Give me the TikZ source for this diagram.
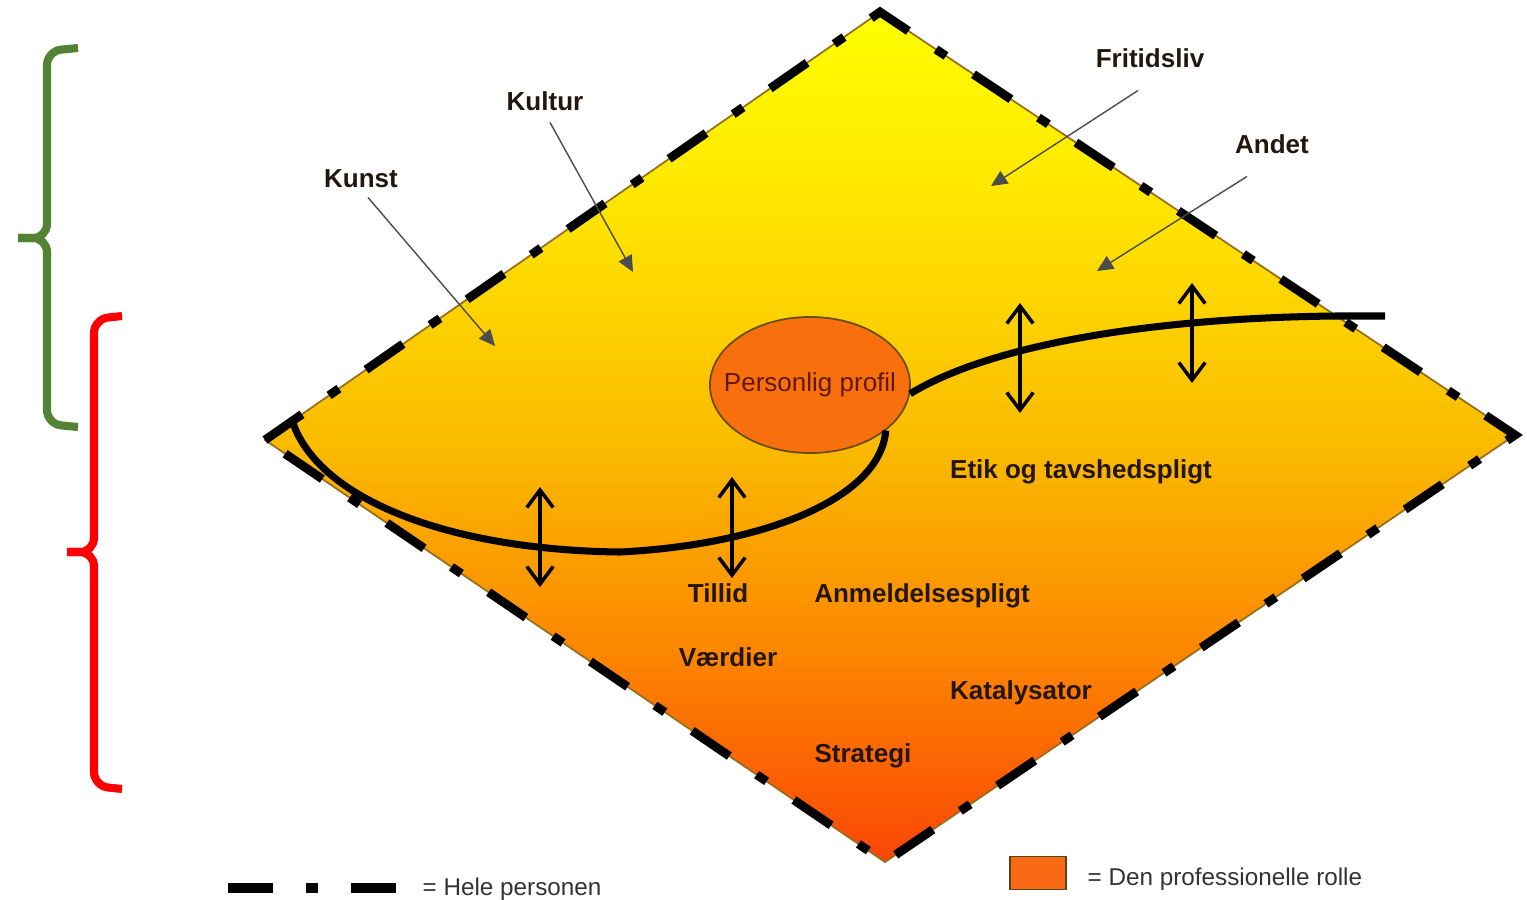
\documentclass[tikz,border=0pt]{standalone}
\usepackage{fontspec}
\setmainfont{Liberation Sans}
\usetikzlibrary{arrows.meta,shapes.geometric}

\definecolor{bundfarve}{RGB}{250,70,5}
\definecolor{farveto}{RGB}{252,135,0}
\definecolor{farvetre}{RGB}{250,188,0}
\definecolor{farvefire}{RGB}{255,226,0}
\definecolor{topfarve}{RGB}{255,255,0}
\definecolor{profilfarve}{RGB}{248,112,14}
\definecolor{rollefarve}{RGB}{250,105,20}
\definecolor{kantfarve}{RGB}{150,110,30}
\definecolor{tekstfarve}{RGB}{35,22,15}
\definecolor{profiltekst}{RGB}{95,25,10}
\definecolor{groen}{RGB}{84,130,53}

\pgfdeclareverticalshading{rolleshade}{100bp}{color(0bp)=(bundfarve); color(25bp)=(bundfarve);
  color(37.5bp)=(farveto); color(50bp)=(farvetre); color(62.5bp)=(farvefire);
  color(75bp)=(topfarve); color(100bp)=(topfarve)}

\begin{document}
\begin{tikzpicture}[x=0.01cm, y=-0.01cm,
    ord/.style={font=\bfseries\fontsize{7.4}{9}\selectfont, text=tekstfarve, anchor=base, inner sep=1pt},
    forklaring/.style={font=\fontsize{6.9}{8}\selectfont, text=black!80, anchor=base west, inner sep=0pt},
    pil/.style={draw=black!70, line width=0.4pt, -{Triangle[length=4.6pt,width=4.2pt]}},
    dobbelt/.style={line width=1pt, {Straight Barb[length=5pt,width=7.5pt]}-{Straight Barb[length=5pt,width=7.5pt]}},
    kurve/.style={line width=2pt},
    stiplet/.style={line width=2.5pt, dash pattern=on 12.8pt off 9.4pt on 3.4pt off 9.4pt},
    klamme/.style={line width=2.3pt, rounded corners=4}]

    \useasboundingbox (0,0) rectangle (1527,899);

    \coordinate (venstre) at (265,440);
    \coordinate (top) at (880,12);
    \coordinate (hoejre) at (1515,435);
    \coordinate (bund) at (885,862);

    % hele personen
    \shade[shading=rolleshade] (venstre) -- (top) -- (hoejre) -- (bund) -- cycle;
    \draw[kantfarve, line width=0.5pt] (venstre) -- (top) -- (hoejre) -- (bund) -- cycle;
    \draw[stiplet] (venstre) -- (top) -- (hoejre) -- (bund) -- cycle;

    % krumme linje
    \coordinate (kurveslut) at (1385,316);
    \coordinate (kurvestart) at (293,423);
    \node[draw=kantfarve!70!black, line width=0.5pt, fill=profilfarve, ellipse,
        minimum width=2cm, minimum height=1.36cm, inner sep=0pt,
        label={[font=\fontsize{7.4}{9}\selectfont, text=profiltekst]center:Personlig profil}]
        (profil) at (810,385) {};
    \draw[kurve] (profil.-5) .. controls (990,345) and (1150,318) .. (1335,316) -- (kurveslut);
    \draw[kurve] (profil.-31) .. controls (880,500) and (760,545) .. (620,552)
        .. controls (450,550) and (320,500) .. (kurvestart);

    % dobbeltpile
    \coordinate (p1a) at (540,487);
    \coordinate (p1b) at (540,587);
    \coordinate (p2a) at (732,477);
    \coordinate (p2b) at (732,578);
    \coordinate (p3a) at (1020,303);
    \coordinate (p3b) at (1020,413);
    \coordinate (p4a) at (1192,283);
    \coordinate (p4b) at (1192,383);
    \draw[dobbelt] (p1a) -- (p1b);
    \draw[dobbelt] (p2a) -- (p2b);
    \draw[dobbelt] (p3a) -- (p3b);
    \draw[dobbelt] (p4a) -- (p4b);

    % ord uden for rollen
    \node[ord] (kunst) at (361,187) {Kunst};
    \node[ord] (kultur) at (545,110) {Kultur};
    \node[ord] (fritid) at (1150,67) {Fritidsliv};
    \node[ord] (andet) at (1272,153) {Andet};
    \coordinate (kunstpkt) at (495,346);
    \coordinate (kulturpkt) at (633,272);
    \coordinate (fritidpkt) at (991,186);
    \coordinate (andetpkt) at (1097,271);
    \draw[pil] ([shift={(7,6)}]kunst.south) -- (kunstpkt);
    \draw[pil] ([shift={(5,8)}]kultur.south) -- (kulturpkt);
    \draw[pil] ([shift={(-12,19)}]fritid.south) -- (fritidpkt);
    \draw[pil] ([shift={(-25,19)}]andet.south) -- (andetpkt);

    % ord i rollen
    \node[ord] (etik) at (1081,478) {Etik og tavshedspligt};
    \node[ord] (tillid) at (718,602) {Tillid};
    \node[ord] (anmeld) at (922,602) {Anmeldelsespligt};
    \node[ord] (vaerdier) at (728,666) {Værdier};
    \node[ord] (katalys) at (1021,699) {Katalysator};
    \node[ord] (strategi) at (863,762) {Strategi};

    % forklaring
    \coordinate (stregstart) at (228,888);
    \coordinate (stregslut) at (397,888);
    \draw[stiplet, line width=2.8pt] (stregstart) -- (stregslut);
    \node[forklaring] (helep) at (422,895) {= Hele personen};
    \node[draw=kantfarve!60!black, line width=0.4pt, fill=rollefarve, minimum width=0.56cm,
        minimum height=0.33cm, inner sep=0pt] (rollefelt) at (1038,873) {};
    \node[forklaring] (rolle) at (1087,885) {= Den professionelle rolle};

    % klammer
    \draw[klamme, groen] (78,48) -- (47,51) -- (47,238) -- (18,238);
    \draw[klamme, groen] (18,238) -- (47,238) -- (47,424) -- (78,427);
    \draw[klamme, red] (122,316) -- (94,319) -- (94,552) -- (67,552);
    \draw[klamme, red] (67,552) -- (94,552) -- (94,786) -- (122,789);

\end{tikzpicture}
\end{document}
